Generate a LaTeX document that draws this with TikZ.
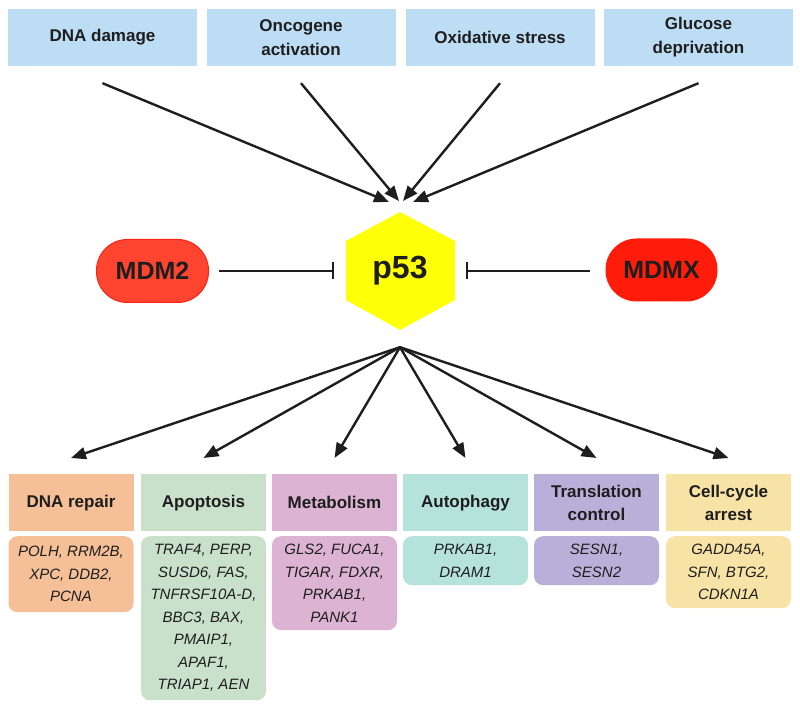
\documentclass[tikz,border=0pt]{standalone}
\usepackage{fontspec}
\setmainfont{Liberation Sans}
\usetikzlibrary{arrows.meta}
\definecolor{topblue}{RGB}{189,221,245}
\definecolor{txt}{RGB}{30,30,30}
\definecolor{mdmfill}{RGB}{255,68,48}
\definecolor{mdmdraw}{RGB}{250,36,16}
\definecolor{mdmxfill}{RGB}{255,28,10}
\definecolor{hexy}{RGB}{255,255,8}
\definecolor{cRepair}{RGB}{245,192,151}
\definecolor{cApop}{RGB}{201,224,202}
\definecolor{cMeta}{RGB}{221,179,211}
\definecolor{cAuto}{RGB}{181,227,220}
\definecolor{cTrans}{RGB}{185,176,218}
\definecolor{cCell}{RGB}{247,227,165}
\begin{document}
\begin{tikzpicture}[x=1pt,y=-1pt,
  topbox/.style={fill=topblue,minimum width=189pt,minimum height=57pt,inner sep=0pt,align=center,
    text=txt,font=\fontsize{17}{24}\selectfont\bfseries},
  hdrbox/.style={minimum width=125pt,minimum height=57pt,inner sep=0pt,align=center,anchor=north,
    text=txt,font=\fontsize{17}{23}\selectfont\bfseries},
  genebox/.style={minimum width=125pt,inner sep=0pt,align=center,anchor=north,rounded corners=9pt,
    text=txt,font=\fontsize{15}{22.5}\selectfont\itshape},
  pill/.style={rounded corners=31pt,minimum width=112pt,minimum height=63pt,inner sep=0pt,
    text=txt,font=\fontsize{25}{30}\selectfont\bfseries},
  act/.style={line width=2.4pt,draw=txt,-{Triangle[length=15pt,width=12pt]}},
  inh/.style={line width=2pt,draw=txt,-{Bar[width=17pt,line width=2.4pt]}}]
\useasboundingbox (0,0) rectangle (800,708);
\fill[white] (0,0) rectangle (800,708);

% top stress boxes
\node[topbox] (dna) at (102.5,37.5) {DNA damage};
\node[topbox] (onc) at (301,37.5) {Oncogene\\activation};
\node[topbox] (oxi) at (500,37.5) {Oxidative stress};
\node[topbox] (glu) at (698.5,37.5) {Glucose\\deprivation};

% p53 hexagon
\fill[hexy] (400,212) -- (455,241) -- (455,300) -- (400,330) -- (346,300) -- (346,241) -- cycle;
\node[minimum width=109pt,minimum height=118pt,inner sep=0pt,text=txt,
  font=\fontsize{32}{36}\selectfont\bfseries] (p53) at (400,271) {p53};

% regulators
\node[pill,fill=mdmfill,draw=mdmdraw,line width=1pt] (mdm2) at (152.5,271) {MDM2};
\node[pill,fill=mdmxfill] (mdmx) at (661.5,270) {MDMX};

\coordinate (t1) at (389,202);
\coordinate (t2) at (399,201);
\coordinate (t3) at (403,201);
\coordinate (t4) at (413,202);
\draw[act] ([yshift=-17pt]dna.south) -- (t1);
\draw[act] ([yshift=-17pt]onc.south) -- (t2);
\draw[act] ([yshift=-17pt]oxi.south) -- (t3);
\draw[act] ([yshift=-17pt]glu.south) -- (t4);

\draw[inh,shorten <=10pt,shorten >=11pt] (mdm2.east) -- (p53.west);
\draw[inh,shorten <=15pt,shorten >=11pt] (mdmx.west |- p53.east) -- (p53.east);

% outcome headers
\node[hdrbox,fill=cRepair] (h1) at (71,474) {DNA repair};
\node[hdrbox,fill=cApop]   (h2) at (203.5,474) {Apoptosis};
\node[hdrbox,fill=cMeta]   (h3) at (334.5,474) {Metabolism};
\node[hdrbox,fill=cAuto]   (h4) at (465.5,474) {Autophagy};
\node[hdrbox,fill=cTrans]  (h5) at (596.5,474) {Translation\\control};
\node[hdrbox,fill=cCell]   (h6) at (728.5,474) {Cell-cycle\\arrest};

% gene boxes
\node[genebox,fill=cRepair,minimum height=76pt]  (g1) at (71,536) {POLH, RRM2B,\\XPC, DDB2,\\PCNA};
\node[genebox,fill=cApop,minimum height=164pt]   (g2) at (203.5,536) {TRAF4, PERP,\\SUSD6, FAS,\\TNFRSF10A-D,\\BBC3, BAX,\\PMAIP1,\\APAF1,\\TRIAP1, AEN};
\node[genebox,fill=cMeta,minimum height=94pt]    (g3) at (334.5,536) {GLS2, FUCA1,\\TIGAR, FDXR,\\PRKAB1,\\PANK1};
\node[genebox,fill=cAuto,minimum height=49pt]    (g4) at (465.5,536) {PRKAB1,\\DRAM1};
\node[genebox,fill=cTrans,minimum height=49pt]   (g5) at (596.5,536) {SESN1,\\SESN2};
\node[genebox,fill=cCell,minimum height=72pt]    (g6) at (728.5,536) {GADD45A,\\SFN, BTG2,\\CDKN1A};

% arrows to outcomes
\coordinate (o) at ([yshift=-17pt]p53.south);
\foreach \h in {h1,h2,h3,h4,h5,h6}
  \draw[act] (o) -- ([yshift=16pt]\h.north);
\end{tikzpicture}
\end{document}
